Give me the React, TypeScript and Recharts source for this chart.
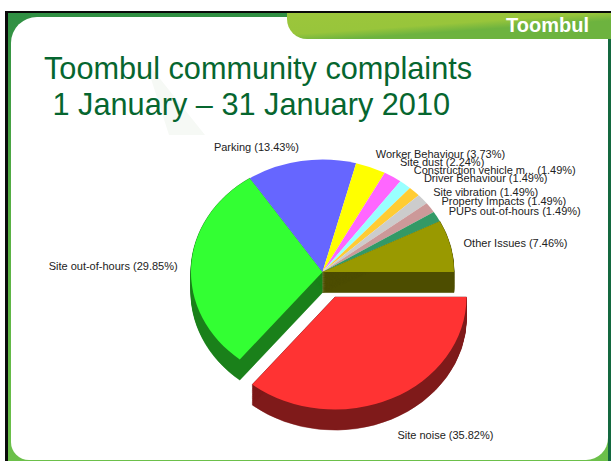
import React from "react";
import { PieChart, Pie, Cell } from "recharts";

const categories = [
  "Site noise",
  "Site out-of-hours",
  "Parking",
  "Worker Behaviour",
  "Site dust",
  "Construction vehicle m...",
  "Driver Behaviour",
  "Site vibration",
  "Property Impacts",
  "PUPs out-of-hours",
  "Other Issues",
];
const shares = [35.82, 29.85, 13.43, 3.73, 2.24, 1.49, 1.49, 1.49, 1.49, 1.49, 7.46];
const topColors = ["#FF3333", "#33FF33", "#6666FF", "#FFFF00", "#FF66FF", "#99FFFF", "#FFCC33", "#CCCCCC", "#CC9999", "#339966", "#999900"];
// only these three slices show a side wall in the picture
const wallColors = ["#7F1A1A", "#1A801A", "none", "none", "none", "none", "none", "none", "none", "none", "#4D4D00"];

const rows = categories.map((name, i) => ({ name, value: shares[i] }));

const W = 611;
const SQUASH = 0.856; // the pie is tilted, recharts only draws circles
const H = 461 / SQUASH;
const CX = 322.5;
const CY = 272;
const R = 131.5;
const DEPTH = 20;
const EXPLODE_X = 12.5;
const EXPLODE_Y = 25;
const depthSteps = Array.from({ length: Math.ceil(DEPTH / SQUASH) + 1 }, (_, i) => i);

const labelNudge: Record<string, number> = {
  "Site dust": -3,
  "Construction vehicle m...": -3,
  "Driver Behaviour": -3,
  "Site vibration": 2,
  "Property Impacts": 2,
  "PUPs out-of-hours": 2,
  "Site noise": 3,
};

const sliceCells = (colors: string[], only: "rest" | "noise", seam = false) =>
  rows.map((r, i) => {
    const show = only === "noise" ? i === 0 : i !== 0;
    const fill = show ? colors[i] : "none";
    return <Cell key={r.name} fill={fill} stroke={seam ? fill : "none"} strokeWidth={seam ? 0.6 : 0} />;
  });

const renderLabel = (props: any) => {
  const { midAngle, name, value, index } = props;
  const a = (midAngle * Math.PI) / 180;
  const c = Math.cos(a);
  const s = -Math.sin(a);
  const exploded = index === 0;
  const x = CX + 145 * c + (exploded ? EXPLODE_X : 0);
  const y = CY + 127 * s + (exploded ? EXPLODE_Y + DEPTH : 0) + (labelNudge[name] || 0);
  return (
    <text
      key={name}
      x={x}
      y={y}
      textAnchor={c < 0 ? "end" : "start"}
      dominantBaseline="central"
      fontFamily="Liberation Sans"
      fontSize={11}
      fill="#222"
    >
      {`${name} (${Number(value).toFixed(2)}%)`}
    </text>
  );
};

const pieProps = {
  data: rows,
  dataKey: "value",
  nameKey: "name",
  startAngle: 0,
  endAngle: -360,
  innerRadius: 0,
  outerRadius: R,
  stroke: "none",
  isAnimationActive: false,
};

export default function App() {
  return (
    <div style={{ position: "fixed", left: 0, top: 0, width: W, height: 461, overflow: "hidden", background: "#fff", fontFamily: "Liberation Sans" }}>
      {/* slide frame */}
      <div style={{ position: "absolute", left: 5, top: 11, width: 606, height: 450, background: "linear-gradient(180deg, #2F8F43 0%, #58B044 45%, #6CC04A 100%)" }} />
      <div style={{ position: "absolute", left: 5, top: 11, width: 606, height: 2, background: "#0A0A0A" }} />
      <div style={{ position: "absolute", left: 5, top: 11, width: 3, height: 450, background: "#0A0A0A" }} />
      <div style={{ position: "absolute", left: 608, top: 39, width: 3, height: 422, background: "#14683F" }} />
      <div style={{ position: "absolute", left: 11, top: 17, width: 597, height: 443, background: "#fff", borderRadius: "26px 0 22px 18px" }} />
      <div style={{ position: "absolute", left: 145, top: 60, width: 60, height: 75, background: "#F6F9F5", clipPath: "polygon(0 0, 40% 100%, 100% 100%)" }} />
      <div
        style={{
          position: "absolute",
          left: 287,
          top: 13,
          width: 324,
          height: 26,
          borderRadius: "0 0 0 20px",
          background: "linear-gradient(176deg, #9CC63B 0%, #98C53B 45%, #6DB33F 62%, #6DB33F 100%)",
        }}
      />
      <div style={{ position: "absolute", right: 22, top: 14, color: "#fff", fontSize: 20, fontWeight: 700, lineHeight: "22px" }}>Toombul</div>
      <div style={{ position: "absolute", left: 44, top: 51, color: "#06662F", fontSize: 30.7, lineHeight: "36px", whiteSpace: "pre" }}>
        {"Toombul community complaints\n 1 January \u2013 31 January 2010"}
      </div>

      {/* pie body, squashed into an ellipse */}
      <div style={{ position: "absolute", left: 0, top: 0, transform: `scaleY(${SQUASH})`, transformOrigin: "0 0" }}>
        <PieChart width={W} height={H} margin={{ top: 0, right: 0, bottom: 0, left: 0 }}>
          {depthSteps.map((d) => (
            <Pie key={`wall-${d}`} {...pieProps} cx={CX} cy={CY / SQUASH + d}>
              {sliceCells(wallColors, "rest", true)}
            </Pie>
          ))}
          <Pie {...pieProps} cx={CX} cy={CY / SQUASH}>
            {sliceCells(topColors, "rest")}
          </Pie>
          {depthSteps.map((d) => (
            <Pie key={`noise-wall-${d}`} {...pieProps} cx={CX + EXPLODE_X} cy={(CY + EXPLODE_Y) / SQUASH + d}>
              {sliceCells(wallColors, "noise", true)}
            </Pie>
          ))}
          <Pie {...pieProps} cx={CX + EXPLODE_X} cy={(CY + EXPLODE_Y) / SQUASH}>
            {sliceCells(topColors, "noise")}
          </Pie>
        </PieChart>
      </div>

      {/* labels stay unsquashed */}
      <div style={{ position: "absolute", left: 0, top: 0 }}>
        <PieChart width={W} height={461} margin={{ top: 0, right: 0, bottom: 0, left: 0 }}>
          <Pie {...pieProps} cx={CX} cy={CY} fill="none" label={renderLabel} labelLine={false}>
            {rows.map((r) => (
              <Cell key={r.name} fill="none" stroke="none" />
            ))}
          </Pie>
        </PieChart>
      </div>
    </div>
  );
}
